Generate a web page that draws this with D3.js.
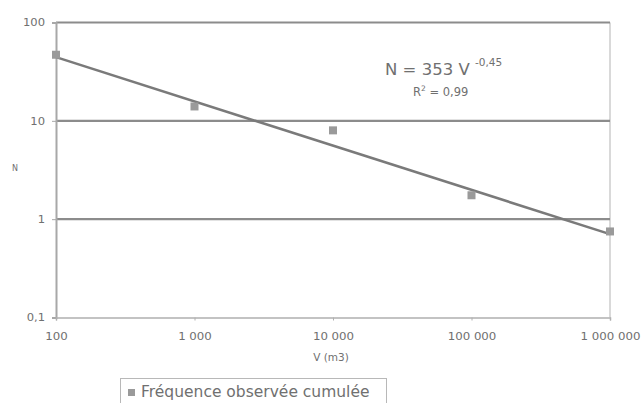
<!DOCTYPE html>
<html>
<head>
<meta charset="utf-8">
<script src="https://cdn.jsdelivr.net/npm/d3@7"></script>
<style>
  body { margin: 0; background: #fff; }
  text { font-family: "DejaVu Sans", "Liberation Sans", sans-serif; fill: #707070; }
</style>
</head>
<body>
<svg id="chart" width="641" height="403"></svg>
<script>
// observed points
volumes = [100, 1000, 10000, 100000, 1000000];
frequencies = [47, 14, 8, 1.75, 0.75];
// axis ticks
xTicks = [100, 1000, 10000, 100000, 1000000];
xTickLabels = ["100", "1 000", "10 000", "100 000", "1 000 000"];
yTicks = [0.1, 1, 10, 100];
yTickLabels = ["0,1", "1", "10", "100"];
// power trendline N = a V^b
trendA = 353;
trendB = -0.45;

svg = d3.select("#chart");

x = d3.scaleLog().domain([100, 1000000]).range([56, 610]);
y = d3.scaleLog().domain([0.1, 100]).range([317.5, 22.5]);

// right border of plot area
svg.append("line")
    .attr("x1", x(1000000)).attr("x2", x(1000000))
    .attr("y1", y(100)).attr("y2", y(0.1))
    .attr("stroke", "#cccccc").attr("stroke-width", 1.5);

// horizontal gridlines
svg.selectAll(".grid")
    .data(yTicks.filter((d) => d > 0.1)).enter()
    .append("line")
    .attr("x1", x(100)).attr("x2", x(1000000))
    .attr("y1", (d) => y(d)).attr("y2", (d) => y(d))
    .attr("stroke", "#8c8c8c").attr("stroke-width", 2.2);

// y axis
yAxis = svg.append("g")
    .attr("transform", "translate(" + x(100) + ",0)")
    .call(d3.axisLeft(y).tickValues(yTicks)
        .tickFormat((d, i) => yTickLabels[i]).tickSize(4).tickPadding(6));
yAxis.select(".domain").attr("stroke", "#a8a8a8").attr("stroke-width", 2);
yAxis.selectAll(".tick line").attr("stroke", "#a8a8a8");
yAxis.selectAll("text")
    .style("font-size", "10.5px")
    .attr("fill", "#777")
    .attr("transform", "scale(1.1,1)");

// x axis
xAxis = svg.append("g")
    .attr("transform", "translate(0," + y(0.1) + ")")
    .call(d3.axisBottom(x).tickValues(xTicks)
        .tickFormat((d, i) => xTickLabels[i]).tickSize(3).tickPadding(12));
xAxis.select(".domain").attr("stroke", "#b0b0b0").attr("stroke-width", 1.5);
xAxis.selectAll(".tick line").attr("stroke", "#b0b0b0");
xAxis.selectAll("text")
    .style("font-size", "10px")
    .attr("fill", "#777")
    .attr("transform", "scale(1.18,1)");

// trendline
trendData = [100, 1000000].map((v) => [v, trendA * Math.pow(v, trendB)]);
svg.append("path")
    .datum(trendData)
    .attr("fill", "none")
    .attr("stroke", "#7a7a7a")
    .attr("stroke-width", 2.6)
    .attr("d", d3.line().x((d) => x(d[0])).y((d) => y(d[1])));

// markers
svg.selectAll(".pt")
    .data(volumes).enter()
    .append("rect")
    .attr("x", (d) => x(d) - 4)
    .attr("y", (d, i) => y(frequencies[i]) - 4)
    .attr("width", 8).attr("height", 8)
    .attr("fill", "#9a9a9a");

// equation
eq = svg.append("text")
    .attr("x", 385).attr("y", 75)
    .style("font-size", "16.5px");
eq.append("tspan").text("N = 353 V ");
eq.append("tspan").attr("dy", -9).style("font-size", "10.5px").text("-0,45");

r2 = svg.append("text")
    .attr("x", 413).attr("y", 96)
    .style("font-size", "11.5px");
r2.append("tspan").text("R");
r2.append("tspan").attr("dy", -5).style("font-size", "7.5px").text("2");
r2.append("tspan").attr("dy", 5).text(" = 0,99");

// axis titles
svg.append("text")
    .attr("x", 12).attr("y", 171)
    .style("font-size", "8px")
    .text("N");
svg.append("text")
    .attr("x", 331).attr("y", 361)
    .style("text-anchor", "middle")
    .style("font-size", "10.5px")
    .text("V (m3)");

// legend
svg.append("rect")
    .attr("x", 120.5).attr("y", 378.5)
    .attr("width", 266).attr("height", 30)
    .attr("fill", "none")
    .attr("stroke", "#b8b8b8").attr("stroke-width", 1);
svg.append("rect")
    .attr("x", 128).attr("y", 389)
    .attr("width", 7).attr("height", 7)
    .attr("fill", "#9a9a9a");
svg.append("text")
    .attr("x", 141).attr("y", 397)
    .style("font-size", "15.5px")
    .text("Fréquence observée cumulée");
</script>
</body>
</html>
